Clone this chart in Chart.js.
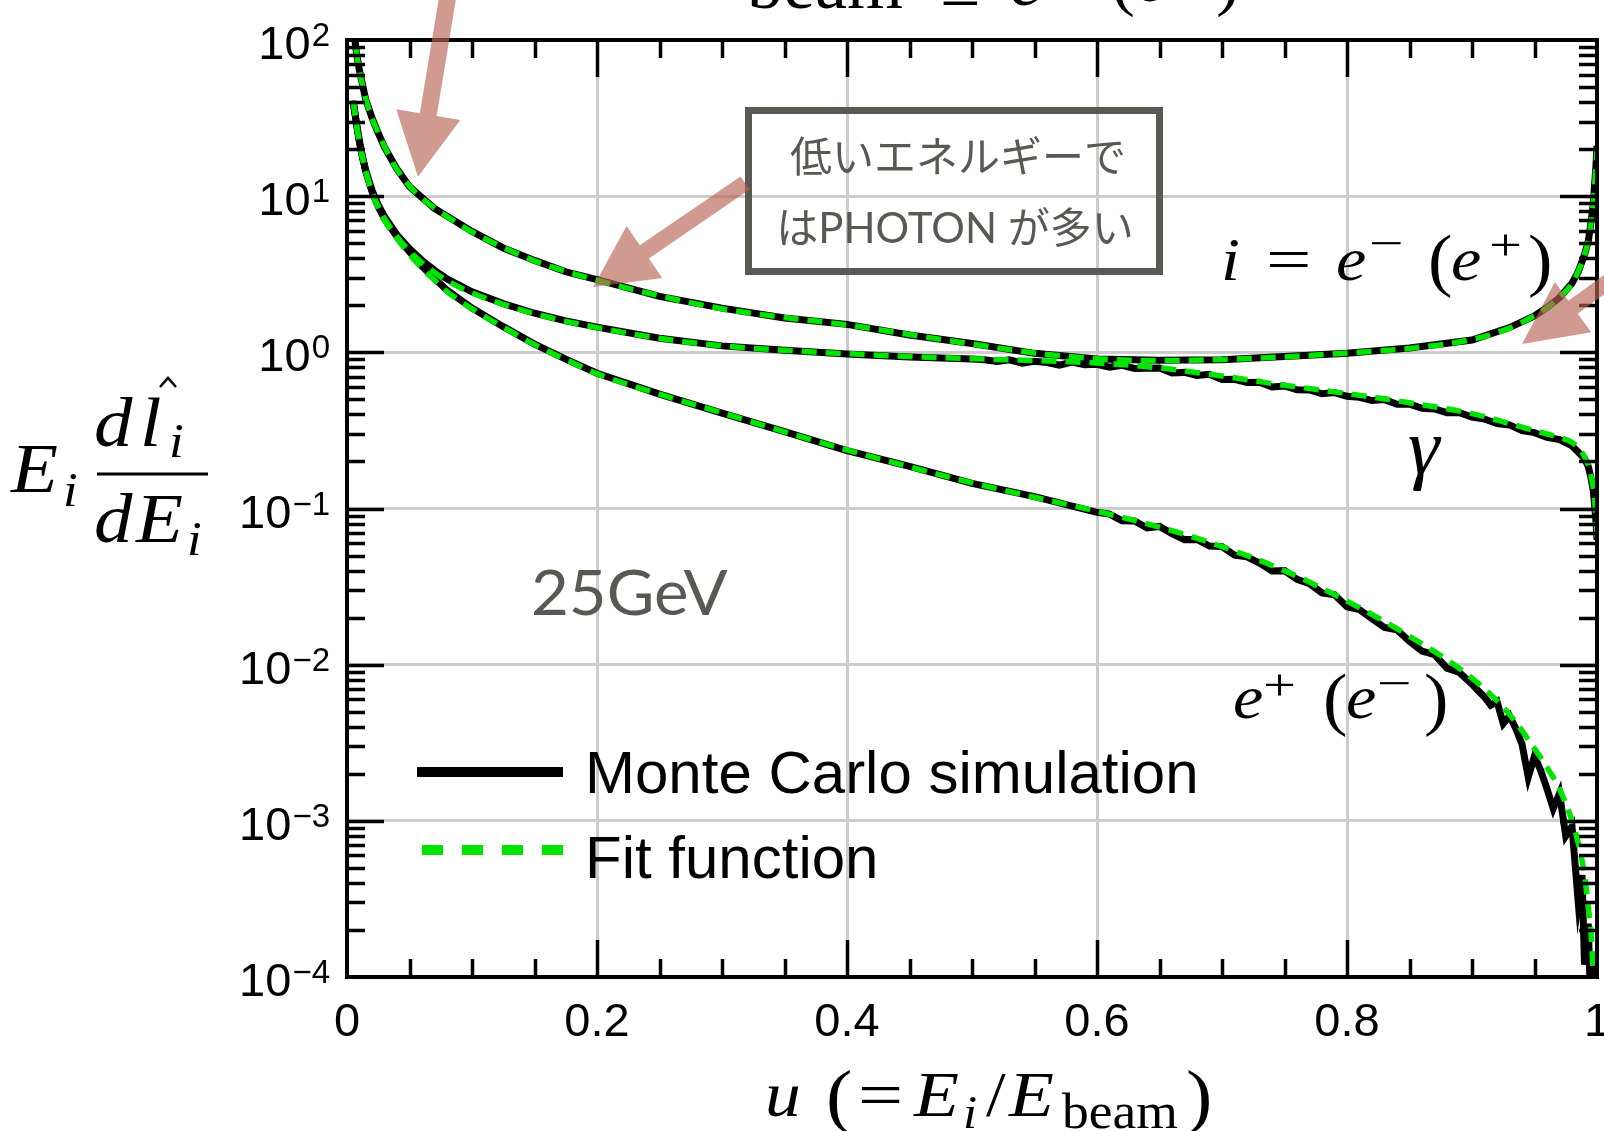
<!DOCTYPE html>
<html>
<head>
<meta charset="utf-8">
<script src="https://cdn.jsdelivr.net/npm/chart.js@4.4.1/dist/chart.umd.min.js"></script>
<style>
  html, body { margin: 0; padding: 0; background: #fff; }
  #wrap { width: 1604px; height: 1131px; }
</style>
</head>
<body>
<div id="wrap"><canvas id="c" width="1604" height="1131"></canvas></div>
<script>
// ---- data: u = E_i / E_beam, spectra E_i dl/dE_i ----
const fitU = [0.005, 0.0075, 0.01, 0.0125, 0.015, 0.02, 0.025, 0.03, 0.04, 0.05,
  0.06, 0.07, 0.08, 0.1, 0.125, 0.15, 0.175, 0.2, 0.25, 0.3,
  0.35, 0.4, 0.45, 0.5, 0.55, 0.6, 0.65, 0.7, 0.75, 0.8,
  0.85, 0.9, 0.93, 0.95, 0.96, 0.97, 0.98, 0.985, 0.99, 0.993,
  0.995, 0.997, 0.998, 0.999, 1.0];

const fitElectron = [125, 84, 63, 51, 42, 31.5, 25.5, 20.8, 14.8, 11.6,
  9.7, 8.4, 7.4, 5.9, 4.7, 3.85, 3.3, 2.9, 2.3, 1.9,
  1.67, 1.5, 1.3, 1.13, 0.99, 0.91, 0.885, 0.9, 0.935, 0.99,
  1.06, 1.21, 1.43, 1.72, 1.93, 2.25, 2.75, 3.3, 4.2, 5.2,
  6.5, 9, 11.5, 15, 20];

const fitPhoton = [41, 29, 22, 17.5, 14.5, 10.7, 8.6, 7.2, 5.5, 4.45,
  3.75, 3.25, 2.88, 2.4, 2.03, 1.77, 1.58, 1.44, 1.23, 1.1,
  1.03, 0.98, 0.94, 0.91, 0.885, 0.855, 0.795, 0.705, 0.615, 0.545,
  0.475, 0.405, 0.35, 0.315, 0.3, 0.285, 0.265, 0.245, 0.215, 0.19,
  0.165, 0.135, 0.115, 0.09, 0.065];

const fitPositron = [41, 29, 22, 17.5, 14.3, 10.5, 8.4, 7.0, 5.35, 4.25,
  3.45, 2.9, 2.45, 1.9, 1.45, 1.12, 0.9, 0.73, 0.54, 0.41,
  0.31, 0.237, 0.185, 0.146, 0.118, 0.096, 0.076, 0.057, 0.04, 0.0255,
  0.0152, 0.0082, 0.0048, 0.0029, 0.0022, 0.0016, 0.001, 0.00072, 0.00045, 0.00028,
  0.0002, 0.000105, 0.00007, 0.00004, 0.00002];

// Monte Carlo histograms
const mcElectronU = fitU;
const mcElectron = [126, 83, 63.5, 51.5, 41.5, 31.8, 25.3, 20.6, 14.9, 11.5,
  9.8, 8.35, 7.45, 5.95, 4.66, 3.88, 3.28, 2.92, 2.28, 1.92,
  1.66, 1.51, 1.29, 1.14, 0.985, 0.905, 0.89, 0.895, 0.94, 0.985,
  1.065, 1.2, 1.44, 1.71, 1.94, 2.24, 2.77, 3.28, 4.22, 5.15,
  6.6, 8.9, 11.7, 14.8, 21];

const mcPhotonU = [0.005, 0.0075, 0.01, 0.0125, 0.015, 0.02, 0.025, 0.03, 0.04, 0.05,
  0.06, 0.07, 0.08, 0.1, 0.125, 0.15, 0.175, 0.2, 0.25, 0.3, 0.35, 0.4, 0.45, 0.5,
  0.51, 0.52, 0.53, 0.54, 0.55, 0.56, 0.57, 0.58, 0.59, 0.60,
  0.61, 0.62, 0.63, 0.64, 0.65, 0.66, 0.67, 0.68, 0.69, 0.70,
  0.71, 0.72, 0.73, 0.74, 0.75, 0.76, 0.77, 0.78, 0.79, 0.80,
  0.81, 0.82, 0.83, 0.84, 0.85, 0.86, 0.87, 0.88, 0.89, 0.90,
  0.91, 0.92, 0.93, 0.94, 0.95, 0.96, 0.97, 0.98, 0.99,
  0.993, 0.995, 0.997, 0.999, 1.0];
const mcPhoton = [40, 29.5, 22.3, 17.6, 14.6, 10.9, 8.8, 7.4, 5.65, 4.6,
  3.88, 3.35, 2.95, 2.44, 2.05, 1.78, 1.59, 1.45, 1.23, 1.1, 1.03, 0.975, 0.935, 0.905,
  0.896, 0.873, 0.895, 0.852, 0.876, 0.86, 0.828, 0.866, 0.834, 0.838,
  0.803, 0.826, 0.789, 0.792, 0.795, 0.738, 0.744, 0.711, 0.723, 0.67,
  0.672, 0.64, 0.643, 0.6, 0.609, 0.576, 0.574, 0.543, 0.552, 0.523,
  0.515, 0.491, 0.498, 0.465, 0.466, 0.438, 0.434, 0.411, 0.411, 0.385,
  0.374, 0.35, 0.343, 0.315, 0.306, 0.285, 0.276, 0.252, 0.209,
  0.186, 0.16, 0.13, 0.087, 0.063];

const mcPositronU = [0.005, 0.0075, 0.01, 0.0125, 0.015, 0.02, 0.025, 0.03, 0.04, 0.05,
  0.06, 0.07, 0.08, 0.1, 0.125, 0.15, 0.175, 0.2, 0.25, 0.3,
  0.35, 0.4, 0.45, 0.5, 0.55, 0.6,
  0.61, 0.62, 0.63, 0.64, 0.65, 0.66, 0.67, 0.68, 0.69, 0.70,
  0.71, 0.72, 0.73, 0.74, 0.75, 0.76, 0.77, 0.78, 0.79, 0.80,
  0.81, 0.82, 0.83, 0.84, 0.85, 0.86, 0.87, 0.88, 0.89, 0.90,
  0.905, 0.91, 0.915, 0.92, 0.925, 0.93, 0.935, 0.94, 0.945, 0.95,
  0.955, 0.96, 0.965, 0.97, 0.975, 0.98,
  0.985, 0.988, 0.99, 0.993, 0.995, 0.997, 0.999];
const mcPositron = [40.5, 29.2, 22.1, 17.7, 14.4, 10.7, 8.55, 7.15, 5.5, 4.4,
  3.55, 2.98, 2.5, 1.92, 1.46, 1.13, 0.905, 0.735, 0.54, 0.408,
  0.311, 0.235, 0.186, 0.145, 0.119, 0.0945,
  0.092, 0.0836, 0.0832, 0.0752, 0.0768, 0.0691, 0.0632, 0.0634, 0.0575, 0.057,
  0.0503, 0.049, 0.0447, 0.0398, 0.04, 0.0352, 0.033, 0.0288, 0.028, 0.0235,
  0.0225, 0.0197, 0.0173, 0.0167, 0.0141, 0.0122, 0.0116, 0.0095, 0.0089, 0.0075,
  0.0068, 0.0062, 0.0055, 0.0058, 0.0042, 0.0047, 0.0039, 0.0031, 0.0019, 0.0026,
  0.0021, 0.0016, 0.0012, 0.0015, 0.0008, 0.00092,
  0.0003, 0.00045, 0.00012, 0.00022, 0.00006, 0.00012, 0.00005];

// axis ticks
const xTickValues = [0, 0.2, 0.4, 0.6, 0.8, 1];
const xTickLabels = ['0', '0.2', '0.4', '0.6', '0.8', '1'];
const yTickExponents = [2, 1, 0, -1, -2, -3, -4];

// ---- styles ----
const GREEN = '#00e400';
const INK = '#5b5853';
const ARROW = 'rgba(185,100,85,0.65)';
const GRID = '#cccccc';
const SANS = '"Liberation Sans", Arial, sans-serif';
const SERIF = '"Liberation Serif", "Times New Roman", serif';

const pts = (us, vs) => us.map((u, i) => ({ x: u, y: vs[i] }));

function fitSet(label, values) {
  return {
    label, data: pts(fitU, values), borderColor: GREEN, borderWidth: 5.5,
    borderDash: [15, 9], cubicInterpolationMode: 'monotone', pointRadius: 0, order: 1
  };
}
function mcSet(label, us, values) {
  return {
    label, data: pts(us, values), borderColor: '#000', borderWidth: 7,
    tension: 0, pointRadius: 0, order: 2
  };
}

function isDecade(v) {
  const l = Math.log10(v);
  return Math.abs(l - Math.round(l)) < 1e-9;
}

function text(ctx, s, x, y, font, color, align) {
  ctx.font = font;
  ctx.fillStyle = color || '#000';
  ctx.textAlign = align || 'left';
  ctx.textBaseline = 'alphabetic';
  ctx.fillText(s, x, y);
}
// text widened horizontally by factor sx
function textS(ctx, s, x, y, font, sx, color) {
  ctx.save();
  ctx.translate(x, y);
  ctx.scale(sx, 1);
  text(ctx, s, 0, 0, font, color);
  ctx.restore();
}

function arrow(ctx, tx, ty, px, py, w, hw, hl) {
  const dx = px - tx, dy = py - ty, L = Math.hypot(dx, dy);
  const ux = dx / L, uy = dy / L, nx = -uy, ny = ux;
  const bx = px - ux * hl, by = py - uy * hl;
  ctx.beginPath();
  ctx.moveTo(tx + nx * w / 2, ty + ny * w / 2);
  ctx.lineTo(bx + nx * w / 2, by + ny * w / 2);
  ctx.lineTo(bx + nx * hw / 2, by + ny * hw / 2);
  ctx.lineTo(px, py);
  ctx.lineTo(bx - nx * hw / 2, by - ny * hw / 2);
  ctx.lineTo(bx - nx * w / 2, by - ny * w / 2);
  ctx.lineTo(tx - nx * w / 2, ty - ny * w / 2);
  ctx.closePath();
  ctx.fill();
}

// frame, inward ticks, labels and annotations
const framePlugin = {
  id: 'frame',
  afterDraw(chart) {
    const { ctx, chartArea: a, scales: { x, y } } = chart;
    ctx.save();

    // inward tick marks
    ctx.strokeStyle = '#000';
    ctx.lineWidth = 3.5;
    ctx.lineCap = 'butt';
    ctx.beginPath();
    for (let i = 1; i < 20; i++) {
      const px = Math.round(x.getPixelForValue(i / 20)) + 0.5;
      const len = (i % 4 === 0) ? 37 : 18;
      ctx.moveTo(px, a.bottom); ctx.lineTo(px, a.bottom - len);
      ctx.moveTo(px, a.top); ctx.lineTo(px, a.top + len);
    }
    for (let e = -4; e < 2; e++) {
      for (let k = 1; k < 10; k++) {
        if (e === -4 && k === 1) continue;
        const py = Math.round(y.getPixelForValue(k * Math.pow(10, e))) + 0.5;
        const len = (k === 1) ? 37 : 18;
        ctx.moveTo(a.left, py); ctx.lineTo(a.left + len, py);
        ctx.moveTo(a.right, py); ctx.lineTo(a.right - len, py);
      }
    }
    ctx.stroke();

    // frame
    ctx.lineWidth = 4;
    ctx.strokeRect(a.left, a.top, a.right - a.left, a.bottom - a.top);

    // tick labels
    xTickValues.forEach((v, i) => {
      text(ctx, xTickLabels[i], x.getPixelForValue(v), 1036, '47px ' + SANS, '#000', 'center');
    });
    yTickExponents.forEach(e => {
      const py = y.getPixelForValue(Math.pow(10, e));
      const ex = e < 0 ? '\u2212' + (-e) : String(e);
      ctx.font = '33px ' + SANS;
      const w = ctx.measureText(ex).width;
      text(ctx, ex, 330, py + 6, '33px ' + SANS, '#000', 'right');
      text(ctx, '10', 330 - w - 1, py + 19, '47px ' + SANS, '#000', 'right');
    });

    // y-axis title: E_i  d l^_i / d E_i
    const IT = 'italic 70px ' + SERIF, ITS = 'italic 48px ' + SERIF;
    textS(ctx, 'E', 11, 492, IT, 1.1);
    textS(ctx, 'i', 63, 506, ITS, 1.1);
    textS(ctx, 'd', 94, 446, IT, 1.1);
    textS(ctx, 'l', 140, 446, IT, 1.1);
    textS(ctx, 'i', 169, 457, ITS, 1.1);
    textS(ctx, 'd', 94, 542, IT, 1.1);
    textS(ctx, 'E', 136, 542, IT, 1.1);
    textS(ctx, 'i', 187, 555, ITS, 1.1);
    ctx.strokeStyle = '#000';
    ctx.lineWidth = 3;
    ctx.beginPath();
    ctx.moveTo(97, 474); ctx.lineTo(208, 474);
    ctx.stroke();
    ctx.lineWidth = 2.5;
    ctx.beginPath();
    ctx.moveTo(160, 387); ctx.lineTo(168, 378); ctx.lineTo(176, 387);
    ctx.stroke();

    // x-axis title: u (= E_i / E_beam)
    const XT = 'italic 64px ' + SERIF, XR = '64px ' + SERIF, XP = '72px ' + SERIF;
    textS(ctx, 'u', 765, 1116, XT, 1.12);
    textS(ctx, '(', 826, 1120, XP, 1.1);
    textS(ctx, '=', 858, 1116, XR, 1.25);
    textS(ctx, 'E', 914, 1116, XT, 1.15);
    textS(ctx, 'i', 963, 1128, 'italic 46px ' + SERIF, 1.1);
    textS(ctx, '/', 986, 1116, XR, 1.1);
    textS(ctx, 'E', 1009, 1116, XT, 1.15);
    textS(ctx, 'beam', 1062, 1128, '50px ' + SERIF, 1.07);
    textS(ctx, ')', 1186, 1120, XP, 1.1);

    // heading line, mostly above the page edge
    text(ctx, 'beam', 747, 8, '72px ' + SERIF);
    text(ctx, '=', 940, 20, '72px ' + SERIF);
    text(ctx, 'e', 1010, 5, 'italic 72px ' + SERIF);
    text(ctx, '(', 1111, 2, '72px ' + SERIF);
    text(ctx, 'e', 1136, 1, 'italic 72px ' + SERIF);
    text(ctx, ')', 1216, 2, '72px ' + SERIF);

    // curve labels
    const LI = 'italic 62px ' + SERIF, LR = '62px ' + SERIF, SUP = '44px ' + SERIF, PAR = '70px ' + SERIF;
    textS(ctx, 'i', 1221, 280, LI, 1.1);
    textS(ctx, '=', 1266, 280, LR, 1.3);
    textS(ctx, 'e', 1336, 280, LI, 1.1);
    textS(ctx, '\u2212', 1369, 258, SUP, 1.4);
    textS(ctx, '(', 1428, 283, PAR, 1.05);
    textS(ctx, 'e', 1451, 280, LI, 1.1);
    textS(ctx, '+', 1489, 260, SUP, 1.33);
    textS(ctx, ')', 1528, 283, PAR, 1.05);

    textS(ctx, '\u03B3', 1408, 474, 'italic 80px ' + SERIF, 1.0);

    textS(ctx, 'e', 1233, 718, LI, 1.1);
    textS(ctx, '+', 1263, 700, SUP, 1.33);
    textS(ctx, '(', 1323, 722, PAR, 1.05);
    textS(ctx, 'e', 1346, 718, LI, 1.1);
    textS(ctx, '\u2212', 1377, 698, SUP, 1.4);
    textS(ctx, ')', 1424, 722, PAR, 1.05);

    // energy tag
    textS(ctx, '25GeV', 531, 615, '61px Lato, "Open Sans", sans-serif', 1.07, INK);

    // note box
    ctx.strokeStyle = INK;
    ctx.lineWidth = 7;
    ctx.strokeRect(748.5, 110.5, 411, 161);
    ctx.textBaseline = 'middle';
    ctx.fillStyle = INK; ctx.textAlign = 'center';
    ctx.font = '42px "Noto Sans CJK JP", sans-serif';
    ctx.fillText('低いエネルギーで', 958, 156);
    ctx.font = '42px Lato, "Noto Sans CJK JP", sans-serif';
    ctx.fillText('はPHOTON が多い', 955, 229);

    // arrows, anchored at points on the curves
    ctx.fillStyle = ARROW;
    const t1 = [x.getPixelForValue(0.0568), y.getPixelForValue(13.3)];
    arrow(ctx, t1[0] + 30, -5, t1[0], t1[1], 17, 65, 63);
    const t2 = [x.getPixelForValue(0.197), y.getPixelForValue(2.62)];
    arrow(ctx, 745, 183, t2[0], t2[1], 16, 63, 62);
    const t3 = [x.getPixelForValue(0.94), y.getPixelForValue(1.13)];
    arrow(ctx, t3[0] + 130, t3[1] - 94, t3[0], t3[1], 16, 62, 63);

    // legend
    ctx.setLineDash([]);
    ctx.strokeStyle = '#000';
    ctx.lineWidth = 10;
    ctx.beginPath(); ctx.moveTo(417, 772); ctx.lineTo(563, 772); ctx.stroke();
    ctx.strokeStyle = GREEN;
    ctx.setLineDash([21, 19]);
    ctx.beginPath(); ctx.moveTo(422, 850); ctx.lineTo(565, 850); ctx.stroke();
    ctx.setLineDash([]);
    text(ctx, 'Monte Carlo simulation', 585, 793, '60px ' + SANS, '#000');
    text(ctx, 'Fit function', 585, 878, '60px ' + SANS, '#000');

    ctx.restore();
  }
};

new Chart(document.getElementById('c'), {
  type: 'line',
  data: {
    datasets: [
      fitSet('Fit function e\u2212', fitElectron),
      fitSet('Fit function \u03B3', fitPhoton),
      fitSet('Fit function e+', fitPositron),
      mcSet('Monte Carlo simulation e\u2212', mcElectronU, mcElectron),
      mcSet('Monte Carlo simulation \u03B3', mcPhotonU, mcPhoton),
      mcSet('Monte Carlo simulation e+', mcPositronU, mcPositron)
    ]
  },
  options: {
    responsive: false,
    animation: false,
    layout: { padding: { left: 347, right: 7, top: 40, bottom: 154 } },
    plugins: { legend: { display: false }, tooltip: { enabled: false } },
    elements: { point: { radius: 0 } },
    scales: {
      x: {
        type: 'linear', min: 0, max: 1,
        ticks: { display: false, stepSize: 0.2 },
        grid: {
          drawTicks: false, lineWidth: 3,
          color: c => (c.tick && c.tick.value > 0.01 && c.tick.value < 0.99) ? GRID : 'rgba(0,0,0,0)'
        },
        border: { display: false }
      },
      y: {
        type: 'logarithmic', min: 1e-4, max: 100,
        ticks: { display: false },
        grid: {
          drawTicks: false, lineWidth: 3,
          color: c => (c.tick && isDecade(c.tick.value) && c.tick.value > 2e-4 && c.tick.value < 50) ? GRID : 'rgba(0,0,0,0)'
        },
        border: { display: false }
      }
    }
  },
  plugins: [framePlugin]
});
</script>
</body>
</html>
